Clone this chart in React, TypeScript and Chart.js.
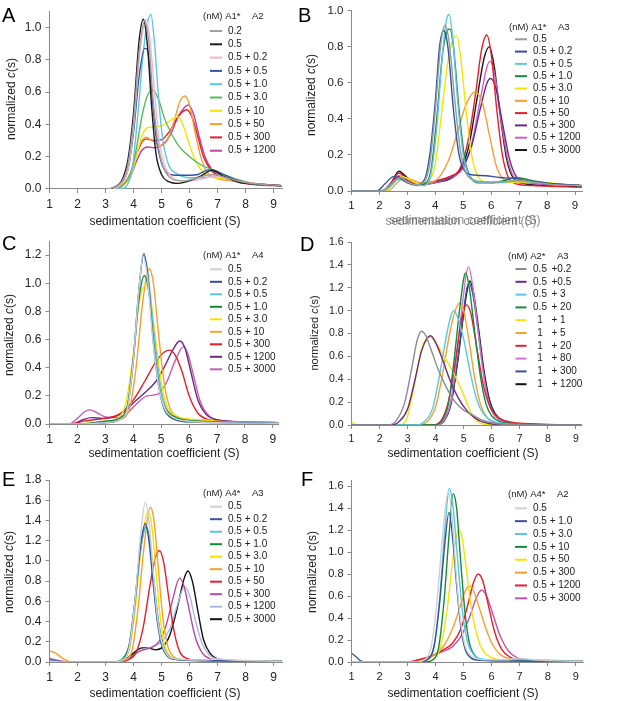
import React, { useEffect, useRef } from 'react';
import { Chart, registerables } from 'chart.js';
Chart.register(...registerables);

type Pt = [number, number];

// ---------------- Panel A: (nM) A1* A2 ----------------
const A_02: Pt[] = [[1,0],[3,0],[3.3,0.01],[3.6,0.05],[3.8,0.15],[4.0,0.42],[4.2,0.85],[4.4,1.04],[4.55,0.9],[4.7,0.55],[4.9,0.25],[5.1,0.12],[5.4,0.06],[5.8,0.05],[6.3,0.07],[6.8,0.09],[7.3,0.07],[8,0.04],[9.3,0.02]];
const A_05: Pt[] = [[1,0],[3,0],[3.3,0.01],[3.6,0.06],[3.8,0.18],[4.0,0.47],[4.2,0.92],[4.35,1.05],[4.5,0.88],[4.65,0.5],[4.8,0.22],[5.0,0.09],[5.2,0.05],[5.6,0.035],[6.0,0.05],[6.4,0.08],[6.8,0.115],[7.2,0.08],[7.8,0.04],[8.5,0.03],[9.3,0.02]];
const A_05_02: Pt[] = [[1,0],[3.2,0],[3.5,0.02],[3.8,0.12],[4.0,0.38],[4.2,0.8],[4.45,1.05],[4.6,0.9],[4.75,0.6],[4.9,0.32],[5.1,0.15],[5.4,0.07],[5.8,0.05],[6.4,0.06],[6.9,0.08],[7.4,0.06],[8,0.04],[9.3,0.02]];
const A_05_05: Pt[] = [[1,0],[3.2,0],[3.5,0.02],[3.8,0.12],[4.0,0.35],[4.2,0.7],[4.4,0.87],[4.5,0.86],[4.65,0.6],[4.8,0.33],[5.0,0.16],[5.2,0.1],[5.5,0.085],[6.0,0.085],[6.3,0.09],[6.6,0.115],[6.8,0.12],[7.1,0.1],[7.6,0.06],[8.3,0.03],[9.3,0.02]];
const A_05_1: Pt[] = [[1,0],[3.5,0],[3.75,0.02],[3.95,0.12],[4.15,0.45],[4.35,0.85],[4.5,1.03],[4.62,1.08],[4.75,0.9],[4.9,0.55],[5.05,0.3],[5.25,0.15],[5.5,0.1],[6.0,0.07],[6.5,0.07],[7.0,0.08],[7.5,0.06],[8,0.04],[9.3,0.02]];
const A_05_3: Pt[] = [[1,0],[3.3,0],[3.6,0.02],[3.9,0.1],[4.1,0.25],[4.3,0.45],[4.5,0.58],[4.7,0.61],[4.9,0.55],[5.1,0.44],[5.3,0.36],[5.6,0.27],[6.0,0.2],[6.4,0.15],[6.8,0.12],[7.2,0.09],[7.7,0.06],[8.3,0.035],[9.3,0.02]];
const A_05_10: Pt[] = [[1,0],[3.3,0],[3.6,0.02],[3.9,0.08],[4.1,0.2],[4.3,0.33],[4.5,0.38],[4.8,0.385],[5.0,0.39],[5.2,0.41],[5.45,0.44],[5.6,0.445],[5.8,0.38],[6.0,0.27],[6.2,0.18],[6.5,0.1],[6.9,0.07],[7.4,0.06],[8,0.04],[9.3,0.02]];
const A_05_50: Pt[] = [[1,0],[3.3,0],[3.6,0.02],[3.9,0.1],[4.1,0.22],[4.3,0.3],[4.45,0.32],[4.65,0.3],[4.95,0.27],[5.2,0.3],[5.45,0.42],[5.65,0.54],[5.83,0.575],[6.0,0.52],[6.2,0.35],[6.4,0.2],[6.6,0.11],[6.9,0.07],[7.5,0.05],[8.3,0.03],[9.3,0.02]];
const A_05_300: Pt[] = [[1,0],[3.3,0],[3.6,0.02],[3.9,0.1],[4.1,0.21],[4.3,0.29],[4.45,0.31],[4.7,0.3],[5.0,0.305],[5.3,0.36],[5.6,0.45],[5.9,0.49],[6.1,0.44],[6.3,0.32],[6.5,0.2],[6.8,0.11],[7.2,0.07],[7.8,0.04],[8.5,0.025],[9.3,0.02]];
const A_05_1200: Pt[] = [[1,0],[3.3,0],[3.6,0.02],[3.9,0.08],[4.1,0.17],[4.3,0.24],[4.5,0.26],[4.75,0.255],[5.0,0.27],[5.3,0.33],[5.6,0.45],[5.95,0.52],[6.15,0.46],[6.35,0.32],[6.55,0.2],[6.8,0.12],[7.2,0.07],[7.8,0.045],[8.5,0.03],[9.3,0.02]];
const A_LABELS = ['0.2', '0.5', '0.5 + 0.2', '0.5 + 0.5', '0.5 + 1.0', '0.5 + 3.0', '0.5 + 10', '0.5 + 50', '0.5 + 300', '0.5 + 1200'];
const A_COLORS = ['#a0a0a0', '#1a1a1a', '#f4b6c8', '#3552a0', '#5cc8e0', '#5cb85c', '#f2e400', '#f5a030', '#e41f2a', '#c2409a'];

// ---------------- Panel B: (nM) A1* A3 ----------------
const B_05: Pt[] = [[1,0],[2.0,0],[2.3,0.02],[2.55,0.06],[2.75,0.075],[3.0,0.05],[3.3,0.035],[3.6,0.05],[3.8,0.15],[4.0,0.45],[4.2,0.82],[4.35,0.92],[4.5,0.82],[4.7,0.5],[4.9,0.22],[5.1,0.1],[5.4,0.06],[5.8,0.05],[6.3,0.05],[6.9,0.06],[7.5,0.05],[8.3,0.035],[9.25,0.03]];
const B_05_02: Pt[] = [[1,0],[1.9,0],[2.2,0.04],[2.5,0.08],[2.75,0.07],[3.0,0.045],[3.3,0.035],[3.6,0.06],[3.8,0.2],[4.0,0.5],[4.15,0.8],[4.3,0.89],[4.45,0.8],[4.65,0.45],[4.85,0.2],[5.05,0.11],[5.3,0.09],[5.8,0.085],[6.3,0.075],[6.8,0.07],[7.4,0.055],[8.2,0.04],[9.25,0.03]];
const B_05_05: Pt[] = [[1,0],[2.1,0],[2.4,0.03],[2.7,0.065],[3.0,0.05],[3.3,0.03],[3.6,0.03],[3.85,0.1],[4.05,0.35],[4.25,0.75],[4.4,0.95],[4.5,0.98],[4.62,0.85],[4.8,0.5],[5.0,0.2],[5.2,0.09],[5.5,0.05],[6.0,0.045],[6.5,0.05],[7.0,0.055],[7.6,0.045],[8.4,0.035],[9.25,0.03]];
const B_05_1: Pt[] = [[1,0],[2.1,0],[2.4,0.03],[2.7,0.07],[3.0,0.05],[3.3,0.035],[3.6,0.04],[3.85,0.12],[4.05,0.4],[4.25,0.75],[4.4,0.88],[4.52,0.9],[4.65,0.8],[4.85,0.45],[5.05,0.18],[5.25,0.08],[5.6,0.045],[6.0,0.045],[6.5,0.06],[6.9,0.075],[7.4,0.06],[8.2,0.04],[9.25,0.03]];
const B_05_3: Pt[] = [[1,0],[2.2,0],[2.5,0.04],[2.8,0.08],[3.1,0.06],[3.4,0.04],[3.7,0.05],[4.0,0.15],[4.2,0.4],[4.45,0.72],[4.62,0.84],[4.76,0.86],[4.9,0.75],[5.1,0.45],[5.3,0.2],[5.5,0.09],[5.8,0.05],[6.3,0.045],[7.0,0.05],[7.6,0.05],[8.4,0.04],[9.25,0.03]];
const B_05_10: Pt[] = [[1,0],[2.3,0],[2.6,0.04],[2.9,0.075],[3.2,0.06],[3.5,0.045],[3.9,0.05],[4.2,0.09],[4.5,0.18],[4.8,0.33],[5.1,0.48],[5.42,0.55],[5.7,0.48],[5.95,0.3],[6.2,0.13],[6.5,0.06],[7.0,0.045],[7.6,0.045],[8.4,0.035],[9.25,0.03]];
const B_05_50: Pt[] = [[1,0],[2.1,0],[2.4,0.04],[2.7,0.1],[2.95,0.07],[3.3,0.04],[3.7,0.045],[4.1,0.06],[4.5,0.08],[4.9,0.13],[5.2,0.3],[5.45,0.55],[5.65,0.78],[5.84,0.866],[6.0,0.76],[6.2,0.45],[6.4,0.2],[6.6,0.08],[6.9,0.04],[7.5,0.03],[8.4,0.025],[9.25,0.02]];
const B_05_300: Pt[] = [[1,0],[2.1,0],[2.4,0.04],[2.7,0.08],[3.0,0.06],[3.4,0.035],[3.8,0.045],[4.2,0.06],[4.6,0.08],[5.0,0.14],[5.3,0.25],[5.6,0.45],[5.85,0.6],[5.98,0.625],[6.15,0.58],[6.4,0.38],[6.65,0.18],[6.9,0.08],[7.3,0.05],[8.0,0.04],[9.25,0.03]];
const B_05_1200: Pt[] = [[1,0],[2.1,0],[2.4,0.04],[2.7,0.085],[3.0,0.06],[3.4,0.035],[3.8,0.04],[4.2,0.055],[4.6,0.075],[5.0,0.13],[5.3,0.26],[5.6,0.5],[5.85,0.69],[5.97,0.72],[6.12,0.65],[6.35,0.4],[6.6,0.17],[6.85,0.07],[7.3,0.045],[8.0,0.035],[9.25,0.03]];
const B_05_3000: Pt[] = [[1,0],[2.1,0],[2.4,0.04],[2.7,0.11],[2.95,0.08],[3.3,0.04],[3.7,0.04],[4.1,0.05],[4.5,0.065],[4.9,0.12],[5.2,0.25],[5.5,0.52],[5.75,0.74],[5.93,0.8],[6.1,0.7],[6.3,0.45],[6.55,0.18],[6.8,0.07],[7.2,0.04],[8.0,0.03],[9.25,0.025]];
const B_LABELS = ['0.5', '0.5 + 0.2', '0.5 + 0.5', '0.5 + 1.0', '0.5 + 3.0', '0.5 + 10', '0.5 + 50', '0.5 + 300', '0.5 + 1200', '0.5 + 3000'];
const B_COLORS = ['#9a9a9a', '#3552a0', '#5cc8e0', '#138a3c', '#f2e400', '#f5a030', '#e41f2a', '#6d2a85', '#cc60c8', '#1a1a1a'];

// ---------------- Panel C: (nM) A1* A4 ----------------
const C_05: Pt[] = [[1,0],[2,0],[3,0.01],[3.5,0.03],[3.8,0.12],[4.0,0.45],[4.2,0.95],[4.35,1.19],[4.5,1.05],[4.7,0.6],[4.9,0.28],[5.1,0.12],[5.4,0.05],[6.0,0.02],[7,0.01],[9.2,0.005]];
const C_05_02: Pt[] = [[1,0],[2,0],[3,0.01],[3.5,0.03],[3.8,0.13],[4.0,0.46],[4.2,0.95],[4.38,1.21],[4.52,1.05],[4.7,0.62],[4.9,0.28],[5.1,0.11],[5.4,0.04],[6.0,0.015],[7,0.01],[9.2,0.005]];
const C_05_05: Pt[] = [[1,0],[2,0],[3,0.01],[3.5,0.03],[3.8,0.12],[4.0,0.44],[4.2,0.95],[4.36,1.2],[4.52,1.08],[4.72,0.68],[4.92,0.33],[5.12,0.13],[5.4,0.04],[6.0,0.015],[7,0.01],[9.2,0.005]];
const C_05_1: Pt[] = [[1,0],[2,0],[3,0.02],[3.5,0.04],[3.8,0.14],[4.0,0.45],[4.2,0.88],[4.4,1.055],[4.55,0.95],[4.75,0.6],[4.95,0.28],[5.15,0.12],[5.5,0.05],[6.0,0.025],[7,0.015],[9.2,0.01]];
const C_05_3: Pt[] = [[1,0],[2,0],[3,0.02],[3.5,0.05],[3.75,0.16],[4.0,0.5],[4.2,0.85],[4.45,0.99],[4.6,0.92],[4.8,0.6],[5.0,0.3],[5.2,0.13],[5.5,0.06],[6.0,0.035],[6.5,0.03],[7,0.02],[9.2,0.01]];
const C_05_10: Pt[] = [[1,0],[2,0],[3,0.01],[3.5,0.03],[3.85,0.1],[4.1,0.4],[4.3,0.8],[4.45,1.02],[4.58,1.105],[4.72,1.0],[4.9,0.65],[5.1,0.3],[5.3,0.12],[5.6,0.05],[6.2,0.025],[7,0.015],[9.2,0.01]];
const C_05_300: Pt[] = [[1,0],[1.8,0],[2.2,0.02],[2.6,0.03],[3.0,0.04],[3.5,0.07],[4.0,0.17],[4.4,0.3],[4.8,0.44],[5.1,0.51],[5.3,0.525],[5.5,0.49],[5.75,0.37],[6.0,0.2],[6.3,0.08],[6.7,0.03],[7.5,0.015],[9.2,0.01]];
const C_05_1200: Pt[] = [[1,0],[1.8,0],[2.2,0.03],[2.5,0.045],[2.9,0.04],[3.3,0.05],[3.7,0.09],[4.0,0.15],[4.4,0.22],[4.8,0.3],[5.1,0.4],[5.4,0.52],[5.66,0.59],[5.85,0.54],[6.05,0.38],[6.3,0.18],[6.6,0.07],[7.0,0.03],[8,0.015],[9.2,0.01]];
const C_05_3000: Pt[] = [[1,0],[1.7,0],[2.0,0.04],[2.25,0.085],[2.45,0.1],[2.7,0.08],[3.0,0.05],[3.4,0.045],[3.8,0.08],[4.1,0.14],[4.5,0.2],[4.85,0.21],[5.2,0.3],[5.5,0.45],[5.8,0.55],[5.95,0.5],[6.15,0.35],[6.4,0.16],[6.7,0.06],[7.1,0.025],[8,0.015],[9.2,0.01]];
const C_LABELS = ['0.5', '0.5 + 0.2', '0.5 + 0.5', '0.5 + 1.0', '0.5 + 3.0', '0.5 + 10', '0.5 + 300', '0.5 + 1200', '0.5 + 3000'];
const C_COLORS = ['#cfcfcf', '#3552a0', '#5cc8e0', '#138a3c', '#f2e400', '#f5a030', '#e41f2a', '#6d2a85', '#c45fb4'];

// ---------------- Panel D: (nM) A2* A3 ----------------
const D_05_02: Pt[] = [[1,0],[2.3,0],[2.6,0.04],[2.9,0.2],[3.15,0.5],[3.35,0.75],[3.5,0.82],[3.65,0.78],[3.85,0.65],[4.1,0.48],[4.4,0.32],[4.7,0.2],[5.0,0.13],[5.3,0.09],[5.6,0.05],[6.0,0.02],[6.5,0.005],[9.2,0]];
const D_05_05: Pt[] = [[1,0],[2.4,0],[2.7,0.03],[3.0,0.14],[3.25,0.38],[3.5,0.65],[3.7,0.76],[3.82,0.78],[4.0,0.72],[4.25,0.57],[4.5,0.4],[4.8,0.24],[5.1,0.13],[5.4,0.06],[5.7,0.025],[6.2,0.005],[9.2,0]];
const D_05_3: Pt[] = [[1,0],[3.3,0],[3.6,0.03],[3.9,0.15],[4.15,0.45],[4.4,0.8],[4.55,0.96],[4.65,1.0],[4.8,0.93],[5.0,0.75],[5.2,0.5],[5.4,0.28],[5.6,0.14],[5.85,0.06],[6.2,0.02],[7,0.005],[9.2,0]];
const D_05_20: Pt[] = [[1,0],[3.9,0],[4.2,0.03],[4.45,0.18],[4.65,0.55],[4.85,1.0],[5.0,1.28],[5.07,1.33],[5.2,1.2],[5.4,0.8],[5.6,0.42],[5.8,0.18],[6.0,0.08],[6.3,0.03],[7,0.01],[9.2,0]];
const D_1_1: Pt[] = [[1,0.025],[1.15,0.005],[1.4,0],[2.7,0],[2.95,0.04],[3.2,0.3],[3.45,0.62],[3.65,0.75],[3.8,0.77],[4.0,0.72],[4.3,0.6],[4.6,0.47],[4.9,0.32],[5.1,0.2],[5.3,0.09],[5.5,0.03],[5.8,0.005],[9.2,0]];
const D_1_5: Pt[] = [[1,0],[3.4,0],[3.7,0.03],[4.0,0.16],[4.25,0.45],[4.5,0.8],[4.7,1.0],[4.88,1.07],[5.0,1.0],[5.2,0.72],[5.4,0.4],[5.6,0.18],[5.85,0.06],[6.2,0.015],[7,0],[9.2,0]];
const D_1_20: Pt[] = [[1,0],[3.9,0],[4.2,0.04],[4.45,0.2],[4.7,0.55],[4.9,0.9],[5.05,1.04],[5.1,1.05],[5.25,0.98],[5.45,0.7],[5.7,0.35],[5.95,0.15],[6.2,0.07],[6.5,0.035],[7.0,0.015],[8,0.005],[9.2,0]];
const D_1_80: Pt[] = [[1,0],[4.0,0],[4.3,0.04],[4.55,0.22],[4.75,0.6],[4.95,1.05],[5.1,1.33],[5.17,1.385],[5.3,1.25],[5.5,0.85],[5.7,0.45],[5.9,0.19],[6.1,0.08],[6.4,0.03],[7,0.005],[9.2,0]];
const D_1_300: Pt[] = [[1,0],[4.0,0],[4.3,0.04],[4.55,0.2],[4.8,0.6],[5.0,1.0],[5.12,1.2],[5.2,1.24],[5.32,1.15],[5.5,0.85],[5.7,0.48],[5.9,0.22],[6.1,0.1],[6.4,0.035],[7,0.008],[9.2,0]];
const D_1_1200: Pt[] = [[1,0],[4.0,0],[4.3,0.035],[4.55,0.19],[4.8,0.58],[5.0,0.98],[5.14,1.2],[5.22,1.26],[5.34,1.17],[5.52,0.86],[5.72,0.48],[5.92,0.22],[6.12,0.1],[6.4,0.04],[7,0.01],[9.2,0]];
const D_LABELS = ['0.5|+0.2', '0.5|+0.5', '0.5|+ 3', '0.5|+ 20', '1|+ 1', '1|+ 5', '1|+ 20', '1|+ 80', '1|+ 300', '1|+ 1200'];
const D_COLORS = ['#8c8c8c', '#6d2a85', '#5cc8e0', '#138a3c', '#f2e400', '#f5a030', '#e41f2a', '#d673cf', '#3552a0', '#111111'];

// ---------------- Panel E: (nM) A4* A3 ----------------
const E_05: Pt[] = [[1,0.01],[1.5,0],[3.3,0],[3.6,0.02],[3.85,0.15],[4.05,0.6],[4.25,1.25],[4.42,1.58],[4.55,1.4],[4.7,0.9],[4.85,0.45],[5.0,0.2],[5.2,0.07],[5.5,0.03],[6.5,0.02],[7.0,0.03],[7.5,0.02],[9.3,0.005]];
const E_05_02: Pt[] = [[1,0.02],[1.5,0],[3.3,0],[3.6,0.02],[3.85,0.16],[4.05,0.6],[4.25,1.15],[4.42,1.37],[4.55,1.2],[4.7,0.78],[4.85,0.4],[5.0,0.17],[5.2,0.06],[5.5,0.025],[6.5,0.015],[9.3,0.005]];
const E_05_05: Pt[] = [[1,0.02],[1.5,0],[3.3,0],[3.6,0.02],[3.85,0.15],[4.05,0.57],[4.25,1.1],[4.45,1.33],[4.58,1.18],[4.72,0.8],[4.88,0.4],[5.05,0.16],[5.25,0.06],[5.6,0.025],[6.5,0.015],[9.3,0.005]];
const E_05_1: Pt[] = [[1,0.015],[1.5,0],[3.3,0],[3.6,0.03],[3.85,0.18],[4.05,0.6],[4.25,1.12],[4.45,1.34],[4.58,1.2],[4.72,0.82],[4.88,0.42],[5.05,0.17],[5.25,0.06],[5.6,0.025],[6.5,0.015],[9.3,0.005]];
const E_05_3: Pt[] = [[1,0.01],[1.5,0],[3.3,0],[3.6,0.02],[3.85,0.12],[4.05,0.5],[4.3,1.2],[4.52,1.49],[4.65,1.35],[4.8,0.9],[4.95,0.45],[5.1,0.18],[5.3,0.06],[5.6,0.025],[6.5,0.015],[9.3,0.005]];
const E_05_10: Pt[] = [[1,0.11],[1.2,0.09],[1.45,0.04],[1.7,0.005],[2,0],[3.4,0],[3.7,0.02],[3.95,0.12],[4.15,0.5],[4.38,1.15],[4.6,1.53],[4.72,1.42],[4.88,0.95],[5.03,0.48],[5.2,0.18],[5.4,0.06],[5.7,0.025],[6.5,0.015],[9.3,0.005]];
const E_05_50: Pt[] = [[1,0],[3.5,0],[3.8,0.02],[4.1,0.1],[4.35,0.35],[4.6,0.78],[4.8,1.05],[4.93,1.1],[5.08,0.98],[5.25,0.65],[5.45,0.3],[5.65,0.1],[5.9,0.035],[6.3,0.015],[7,0.01],[9.3,0.005]];
const E_05_300: Pt[] = [[1,0.035],[1.3,0.015],[1.7,0],[3.4,0],[3.8,0.03],[4.1,0.09],[4.35,0.12],[4.6,0.14],[4.9,0.2],[5.15,0.35],[5.4,0.62],[5.64,0.83],[5.8,0.75],[6.0,0.5],[6.2,0.25],[6.45,0.09],[6.7,0.035],[7.2,0.015],[9.3,0.005]];
const E_05_1200: Pt[] = [[1,0.015],[1.5,0],[3.4,0],[3.8,0.03],[4.1,0.09],[4.4,0.13],[4.7,0.15],[5.0,0.2],[5.3,0.33],[5.55,0.55],[5.82,0.745],[6.0,0.66],[6.2,0.42],[6.45,0.18],[6.7,0.07],[7.0,0.03],[7.5,0.015],[9.3,0.005]];
const E_05_3000: Pt[] = [[1,0],[3.4,0],[3.75,0.03],[4.05,0.1],[4.3,0.14],[4.5,0.14],[4.8,0.12],[5.05,0.15],[5.3,0.27],[5.55,0.52],[5.8,0.82],[5.94,0.9],[6.1,0.8],[6.3,0.5],[6.5,0.22],[6.75,0.08],[7.0,0.03],[7.5,0.015],[9.3,0.005]];
const E_LABELS = ['0.5', '0.5 + 0.2', '0.5 + 0.5', '0.5 + 1.0', '0.5 + 3.0', '0.5 + 10', '0.5 + 50', '0.5 + 300', '0.5 + 1200', '0.5 + 3000'];
const E_COLORS = ['#d0d0d0', '#3552a0', '#5cc8e0', '#138a3c', '#f2e400', '#f5a030', '#e41f2a', '#b54aa5', '#a9b7df', '#111111'];

// ---------------- Panel F: (nM) A4* A2 ----------------
const F_05: Pt[] = [[1,0],[3.3,0],[3.6,0.02],[3.85,0.15],[4.05,0.55],[4.25,1.15],[4.45,1.55],[4.58,1.35],[4.72,0.85],[4.88,0.4],[5.05,0.15],[5.3,0.05],[5.8,0.02],[6.5,0.02],[7.0,0.035],[7.5,0.02],[8.3,0.01],[9.26,0.005]];
const F_05_1: Pt[] = [[1,0.08],[1.15,0.05],[1.3,0.015],[1.5,0],[3.4,0],[3.7,0.02],[3.95,0.15],[4.15,0.55],[4.32,1.05],[4.48,1.36],[4.6,1.15],[4.75,0.7],[4.9,0.32],[5.05,0.12],[5.25,0.04],[5.6,0.015],[6.5,0.01],[9.26,0.005]];
const F_05_3: Pt[] = [[1,0],[3.4,0],[3.7,0.02],[3.95,0.15],[4.15,0.6],[4.33,1.2],[4.49,1.58],[4.62,1.42],[4.78,0.95],[4.95,0.48],[5.12,0.2],[5.35,0.07],[5.7,0.025],[6.5,0.015],[7,0.02],[9.26,0.005]];
const F_05_10: Pt[] = [[1,0],[3.6,0],[3.9,0.02],[4.1,0.12],[4.3,0.55],[4.48,1.15],[4.63,1.53],[4.75,1.4],[4.9,0.9],[5.05,0.45],[5.2,0.18],[5.4,0.06],[5.7,0.02],[6.5,0.01],[9.26,0.005]];
const F_05_50: Pt[] = [[1,0],[3.6,0],[3.9,0.02],[4.15,0.12],[4.4,0.45],[4.6,0.9],[4.75,1.15],[4.83,1.21],[4.95,1.12],[5.12,0.8],[5.3,0.45],[5.5,0.22],[5.7,0.1],[6.0,0.04],[6.5,0.015],[9.26,0.005]];
const F_05_300: Pt[] = [[1,0],[3.2,0],[3.6,0.02],[4.0,0.07],[4.3,0.15],[4.6,0.3],[4.85,0.48],[5.05,0.64],[5.2,0.69],[5.35,0.65],[5.55,0.5],[5.8,0.3],[6.05,0.15],[6.35,0.06],[6.7,0.025],[7.3,0.01],[9.26,0.005]];
const F_05_1200: Pt[] = [[1,0],[3.0,0],[3.4,0.02],[3.8,0.05],[4.2,0.1],[4.6,0.17],[4.9,0.3],[5.15,0.52],[5.35,0.72],[5.52,0.8],[5.68,0.74],[5.88,0.52],[6.1,0.28],[6.35,0.12],[6.65,0.045],[7.0,0.02],[8,0.008],[9.26,0.005]];
const F_05_3000: Pt[] = [[1,0],[3.0,0],[3.4,0.02],[3.8,0.05],[4.2,0.09],[4.6,0.14],[4.9,0.23],[5.2,0.4],[5.45,0.58],[5.64,0.655],[5.82,0.6],[6.05,0.43],[6.3,0.24],[6.6,0.1],[6.9,0.04],[7.3,0.015],[8,0.008],[9.26,0.005]];
const F_LABELS = ['0.5', '0.5 + 1.0', '0.5 + 3.0', '0.5 + 10', '0.5 + 50', '0.5 + 300', '0.5 + 1200', '0.5 + 3000'];
const F_COLORS = ['#d0d0d0', '#3552a0', '#5cc8e0', '#138a3c', '#f2e400', '#f5a030', '#e41f2a', '#c550ae'];

const X_TITLE = 'sedimentation coefficient (S)';

// ---------------- layout ----------------
const PAGE_W = 617;
const PAGE_H = 701;
const YW = 40;
const XH = 24;
const FONT = '"Liberation Sans", Arial, Helvetica, sans-serif';
const AXIS = '#8a8a8a';
const TEXT = '#222222';

interface Spec {
  letter: string; letterX: number; letterY: number;
  left: number; right: number; top: number; bottom: number;
  xMax: number; yMax: number; tickSize: number;
  series: Pt[][]; labels: string[]; colors: string[];
  head1: string; head2: string; headX: number; headY: number;
  rowY0: number; rowStep: number; lineX0: number; lineX1: number; textX: number; col1X?: number; col2X?: number;
  yTitleX: number; yTitleY: number; yTitleSize: number;
  xTitleX: number; xTitleY: number; xTitleGhost?: boolean;
}

const PANELS: Spec[] = [
  { letter: 'A', letterX: 2, letterY: 22, left: 49.5, right: 282, top: 6.4, bottom: 189, xMax: 9.3, yMax: 1.1, tickSize: 12,
    series: [A_02, A_05, A_05_02, A_05_05, A_05_1, A_05_3, A_05_10, A_05_50, A_05_300, A_05_1200], labels: A_LABELS, colors: A_COLORS,
    head1: '(nM) A1*', head2: 'A2', headX: 203, headY: 16, rowY0: 31, rowStep: 13.3, lineX0: 210, lineX1: 222, textX: 228,
    yTitleX: 12, yTitleY: 99, yTitleSize: 12, xTitleX: 165, xTitleY: 221.5 },
  { letter: 'B', letterX: 298, letterY: 22, left: 351.5, right: 582, top: 7, bottom: 191, xMax: 9.25, yMax: 1.0, tickSize: 11.5,
    series: [B_05, B_05_02, B_05_05, B_05_1, B_05_3, B_05_10, B_05_50, B_05_300, B_05_1200, B_05_3000], labels: B_LABELS, colors: B_COLORS,
    head1: '(nM) A1*', head2: 'A3', headX: 509, headY: 27, rowY0: 39.3, rowStep: 12.3, lineX0: 515, lineX1: 527, textX: 533,
    yTitleX: 312, yTitleY: 95, yTitleSize: 12, xTitleX: 463, xTitleY: 221.5, xTitleGhost: true },
  { letter: 'C', letterX: 2, letterY: 250, left: 49.5, right: 278.5, top: 241, bottom: 424, xMax: 9.2, yMax: 1.3, tickSize: 12,
    series: [C_05, C_05_02, C_05_05, C_05_1, C_05_3, C_05_10, C_05_300, C_05_1200, C_05_3000], labels: C_LABELS, colors: C_COLORS,
    head1: '(nM) A1*', head2: 'A4', headX: 203, headY: 255, rowY0: 269.3, rowStep: 12.5, lineX0: 210, lineX1: 222, textX: 228,
    yTitleX: 10, yTitleY: 335, yTitleSize: 12, xTitleX: 164, xTitleY: 453.5 },
  { letter: 'D', letterX: 300, letterY: 251, left: 351.5, right: 581.5, top: 242, bottom: 425, xMax: 9.2, yMax: 1.6, tickSize: 10.5,
    series: [D_05_02, D_05_05, D_05_3, D_05_20, D_1_1, D_1_5, D_1_20, D_1_80, D_1_300, D_1_1200], labels: D_LABELS, colors: D_COLORS,
    head1: '(nM) A2*', head2: 'A3', headX: 508, headY: 256, rowY0: 269, rowStep: 12.8, lineX0: 515.5, lineX1: 526.5, textX: 533, col1X: 540, col2X: 551.5,
    yTitleX: 315, yTitleY: 333, yTitleSize: 11, xTitleX: 463, xTitleY: 453.5 },
  { letter: 'E', letterX: 2, letterY: 486, left: 49.5, right: 282, top: 480, bottom: 662, xMax: 9.3, yMax: 1.8, tickSize: 12,
    series: [E_05, E_05_02, E_05_05, E_05_1, E_05_3, E_05_10, E_05_50, E_05_300, E_05_1200, E_05_3000], labels: E_LABELS, colors: E_COLORS,
    head1: '(nM) A4*', head2: 'A3', headX: 203, headY: 493.3, rowY0: 506.7, rowStep: 12.5, lineX0: 210, lineX1: 222, textX: 228,
    yTitleX: 10, yTitleY: 572, yTitleSize: 12, xTitleX: 165, xTitleY: 694 },
  { letter: 'F', letterX: 301, letterY: 486, left: 351.5, right: 583, top: 480.5, bottom: 662, xMax: 9.26, yMax: 1.65, tickSize: 11,
    series: [F_05, F_05_1, F_05_3, F_05_10, F_05_50, F_05_300, F_05_1200, F_05_3000], labels: F_LABELS, colors: F_COLORS,
    head1: '(nM) A4*', head2: 'A2', headX: 508, headY: 494.3, rowY0: 508.3, rowStep: 12.86, lineX0: 515, lineX1: 527, textX: 533,
    yTitleX: 313, yTitleY: 572, yTitleSize: 12, xTitleX: 463, xTitleY: 694 },
];

function makeDecor(s: Spec) {
  return {
    id: 'decor' + s.letter,
    afterDraw(chart: any) {
      const ctx: CanvasRenderingContext2D = chart.ctx;
      ctx.save();
      // panel letter
      ctx.fillStyle = '#000';
      ctx.font = `20px ${FONT}`;
      ctx.textAlign = 'left';
      ctx.textBaseline = 'alphabetic';
      ctx.fillText(s.letter, s.letterX, s.letterY);

      // y title with italic c
      ctx.save();
      ctx.translate(s.yTitleX, s.yTitleY);
      ctx.rotate(-Math.PI / 2);
      ctx.textBaseline = 'middle';
      ctx.fillStyle = TEXT;
      const nf = `${s.yTitleSize}px ${FONT}`;
      const itf = `italic ${s.yTitleSize}px ${FONT}`;
      const parts: [string, string][] = [['normalized ', nf], ['c', itf], ['(s)', nf]];
      let total = 0;
      for (const [t, f] of parts) { ctx.font = f; total += ctx.measureText(t).width; }
      let cx = -total / 2;
      for (const [t, f] of parts) { ctx.font = f; ctx.fillText(t, cx, 0); cx += ctx.measureText(t).width; }
      ctx.restore();

      // x title
      ctx.font = `12px ${FONT}`;
      ctx.textAlign = 'center';
      ctx.textBaseline = 'middle';
      if (s.xTitleGhost) {
        ctx.fillStyle = 'rgba(90,90,90,0.7)';
        ctx.fillText(X_TITLE, s.xTitleX - 2, s.xTitleY);
        ctx.fillText(X_TITLE, s.xTitleX + 2, s.xTitleY - 1);
      } else {
        ctx.fillStyle = TEXT;
        ctx.fillText(X_TITLE, s.xTitleX, s.xTitleY);
      }

      // legend header
      ctx.textAlign = 'left';
      ctx.fillStyle = TEXT;
      ctx.font = `9.5px ${FONT}`;
      ctx.fillText(s.head1, s.headX, s.headY);
      ctx.fillText(s.head2, s.headX + 49, s.headY);

      // legend rows
      ctx.font = `10px ${FONT}`;
      s.labels.forEach((lab, i) => {
        const y = s.rowY0 + i * s.rowStep;
        ctx.strokeStyle = s.colors[i];
        ctx.lineWidth = 2;
        ctx.beginPath();
        ctx.moveTo(s.lineX0, y);
        ctx.lineTo(s.lineX1, y);
        ctx.stroke();
        ctx.fillStyle = TEXT;
        if (lab.includes('|') && s.col1X !== undefined && s.col2X !== undefined) {
          const [a, b] = lab.split('|');
          ctx.textAlign = 'center';
          ctx.fillText(a, s.col1X, y);
          ctx.textAlign = 'left';
          ctx.fillText(b, s.col2X, y);
        } else {
          ctx.textAlign = 'left';
          ctx.fillText(lab, s.textX, y);
        }
      });
      ctx.restore();
    },
  };
}

function Panel({ spec }: { spec: Spec }) {
  const ref = useRef<HTMLCanvasElement | null>(null);
  useEffect(() => {
    if (!ref.current) return;
    const s = spec;
    const tickFont = { family: FONT, size: s.tickSize };
    const chart = new Chart(ref.current, {
      type: 'line',
      data: {
        datasets: s.series.map((pts, i) => ({
          label: s.labels[i].replace('|', ' '),
          data: pts.map(([x, y]) => ({ x, y })),
          borderColor: s.colors[i],
          backgroundColor: s.colors[i],
          borderWidth: 1.4,
          pointRadius: 0,
          fill: false,
          cubicInterpolationMode: 'monotone' as const,
        })),
      },
      options: {
        responsive: false,
        animation: false,
        events: [],
        layout: {
          autoPadding: false,
          padding: {
            left: s.left - YW,
            top: s.top,
            right: PAGE_W - s.right,
            bottom: PAGE_H - s.bottom - XH,
          },
        },
        plugins: { legend: { display: false }, tooltip: { enabled: false } },
        scales: {
          x: {
            type: 'linear',
            min: 1,
            max: s.xMax,
            afterFit: (sc: any) => { sc.height = XH; },
            ticks: { stepSize: 1, includeBounds: false, autoSkip: false, maxRotation: 0, padding: 4, font: tickFont, color: TEXT, callback: (v: any) => String(v) },
            grid: { display: true, drawOnChartArea: false, drawTicks: true, tickLength: 4, color: AXIS },
            border: { display: true, color: AXIS, width: 1 },
          },
          y: {
            type: 'linear',
            min: 0,
            max: s.yMax,
            afterFit: (sc: any) => { sc.width = YW; },
            ticks: { stepSize: 0.2, includeBounds: false, autoSkip: false, padding: 4, font: tickFont, color: TEXT, callback: (v: any) => Number(v).toFixed(1) },
            grid: { display: true, drawOnChartArea: false, drawTicks: true, tickLength: 4, color: AXIS },
            border: { display: true, color: AXIS, width: 1 },
          },
        },
      } as any,
      plugins: [makeDecor(s)],
    });
    return () => chart.destroy();
  }, [spec]);
  return (
    <canvas
      ref={ref}
      width={PAGE_W}
      height={PAGE_H}
      style={{ position: 'absolute', left: 0, top: 0, width: PAGE_W, height: PAGE_H }}
    />
  );
}

export default function App() {
  return (
    <div style={{ position: 'absolute', left: 0, top: 0, width: PAGE_W, height: PAGE_H, background: '#fff', overflow: 'hidden' }}>
      {PANELS.map((p) => (
        <Panel key={p.letter} spec={p} />
      ))}
    </div>
  );
}
